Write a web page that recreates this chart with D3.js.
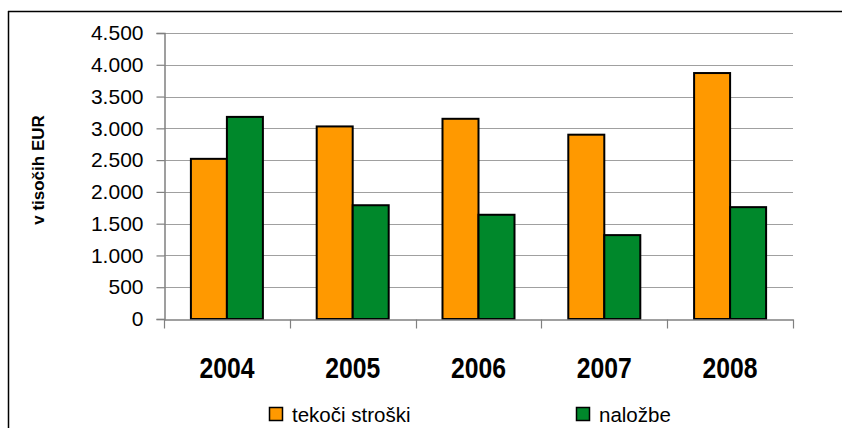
<!DOCTYPE html>
<html>
<head>
<meta charset="utf-8">
<script src="https://cdn.jsdelivr.net/npm/d3@7"></script>
<style>
  html, body { margin: 0; padding: 0; background: #fff; }
  svg { display: block; font-family: "Liberation Sans", Arial, sans-serif; }
</style>
</head>
<body>
<svg id="chart" width="842" height="428"></svg>
<script>
// Annual spending, thousands of EUR
const years = ["2004", "2005", "2006", "2007", "2008"];
const seriesNames = ["tekoči stroški", "naložbe"];
const tekociStroski = [2520, 3030, 3150, 2900, 3870];
const nalozbe = [3180, 1790, 1640, 1320, 1760];
const yTicks = [0, 500, 1000, 1500, 2000, 2500, 3000, 3500, 4000, 4500];
const colors = ["#FF9900", "#00882B"];

const rows = years.map((y, i) => ({ year: y, values: [tekociStroski[i], nalozbe[i]] }));

const svg = d3.select("#chart");

// outer frame (top and left edges visible)
svg.append("line").attr("x1", 8).attr("x2", 842).attr("y1", 11.5).attr("y2", 11.5)
  .attr("stroke", "#000").attr("stroke-width", 1.5);
svg.append("line").attr("x1", 8.5).attr("x2", 8.5).attr("y1", 11).attr("y2", 428)
  .attr("stroke", "#000").attr("stroke-width", 1.5);

const plot = { left: 164, right: 793, top: 33, bottom: 319 };

const x = d3.scaleBand().domain(years).range([plot.left, plot.right]);
const inner = d3.scaleBand().domain([0, 1]).range([0, 72]);
const barOffset = (x.bandwidth() - 72) / 2;
const y = d3.scaleLinear().domain([0, 4500]).range([plot.bottom, plot.top]);

// horizontal gridlines
svg.append("g").selectAll("line").data(yTicks.filter(t => t > 0)).join("line")
  .attr("x1", plot.left).attr("x2", plot.right)
  .attr("y1", d => Math.round(y(d)) + 0.5).attr("y2", d => Math.round(y(d)) + 0.5)
  .attr("stroke", "#a0a0a0").attr("stroke-width", 1);

// y axis
const yAxis = svg.append("g").attr("transform", `translate(${plot.left + 0.5},0)`)
  .call(d3.axisLeft(y).tickValues(yTicks).tickSize(8).tickPadding(13)
    .tickFormat(d => d3.format(",")(d).replace(/,/g, ".")));
yAxis.select(".domain").attr("stroke", "#808080").attr("stroke-width", 1.5);
yAxis.selectAll(".tick line").attr("stroke", "#808080").attr("stroke-width", 1.2);
yAxis.selectAll(".tick text").attr("font-size", 21).attr("fill", "#000")
  .attr("font-family", "'Liberation Sans', Arial, sans-serif");

// bars
const groups = svg.append("g").selectAll("g").data(rows).join("g")
  .attr("transform", d => `translate(${x(d.year) + barOffset},0)`);
groups.selectAll("rect").data(d => d.values).join("rect")
  .attr("x", (d, i) => inner(i))
  .attr("width", inner.bandwidth())
  .attr("y", d => y(d))
  .attr("height", d => y(0) - y(d))
  .attr("fill", (d, i) => colors[i])
  .attr("stroke", "#000").attr("stroke-width", 2);

// x axis
const xAxis = svg.append("g").attr("transform", `translate(0,${plot.bottom + 0.5})`)
  .call(d3.axisBottom(x).tickSize(0).tickPadding(0).tickFormat(""));
xAxis.select(".domain").attr("stroke", "#808080").attr("stroke-width", 1.5);
const xTickPos = years.map(yr => x(yr)).concat([plot.right]);
xAxis.append("g").selectAll("line").data(xTickPos).join("line")
  .attr("x1", d => Math.round(d) + 0.5).attr("x2", d => Math.round(d) + 0.5)
  .attr("y1", 0).attr("y2", 9)
  .attr("stroke", "#808080").attr("stroke-width", 1.2);

// category labels
svg.append("g").selectAll("text").data(years).join("text")
  .attr("x", d => x(d) + x.bandwidth() / 2)
  .attr("y", 378)
  .attr("text-anchor", "middle")
  .attr("font-size", 29).attr("font-weight", "bold")
  .attr("textLength", 55).attr("lengthAdjust", "spacingAndGlyphs")
  .text(d => d);

// y axis title
svg.append("text")
  .attr("transform", "translate(44,170) rotate(-90)")
  .attr("text-anchor", "middle")
  .attr("font-size", 17).attr("font-weight", "bold")
  .text("v tisočih EUR");

// legend
const legendX = [269, 576];
const legend = svg.append("g").selectAll("g").data(seriesNames).join("g")
  .attr("transform", (d, i) => `translate(${legendX[i]},407)`);
legend.append("rect").attr("x", 0.5).attr("y", 0.5).attr("width", 13).attr("height", 13)
  .attr("fill", (d, i) => colors[i]).attr("stroke", "#000").attr("stroke-width", 1.5);
legend.append("text").attr("x", 23).attr("y", 15)
  .attr("font-size", 20.5).text(d => d);
</script>
</body>
</html>
